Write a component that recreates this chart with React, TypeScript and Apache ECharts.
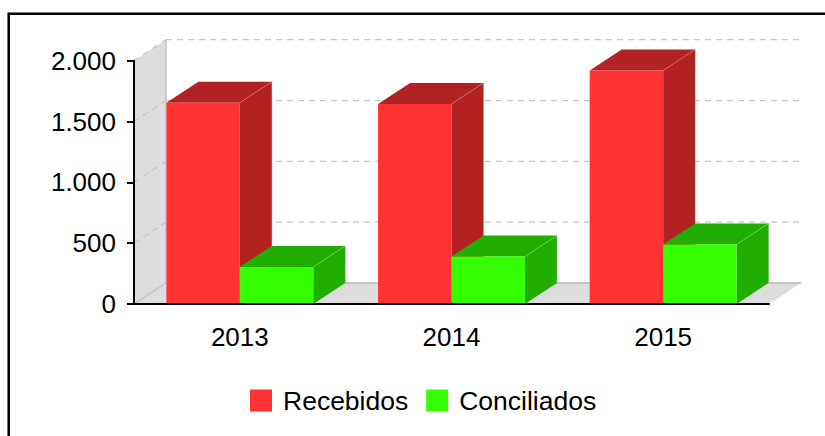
import React, { useEffect, useRef } from "react";
import * as echarts from "echarts";

const categories = ["2013", "2014", "2015"];
const recebidos = [1655, 1645, 1920];
const conciliados = [305, 390, 490];
const yTicks = [0, 500, 1000, 1500, 2000];
const seriesNames = ["Recebidos", "Conciliados"];

const DX = 32;
const DY = -21;
const FONT = "'Liberation Sans', Arial, sans-serif";

const fmt = (v: number) => String(v).replace(/\B(?=(\d{3})+(?!\d))/g, ".");

function makeBarRenderer(side: "left" | "right", front: string, dark: string, edge: string) {
  return (params: any, api: any) => {
    const idx = api.value(0);
    const val = api.value(1);
    const base = api.coord([idx, 0]);
    const top = api.coord([idx, val]);
    const bw = api.size([1, 0])[0] * 0.347;
    const x0 = side === "left" ? base[0] - bw : base[0];
    const x1 = x0 + bw;
    const yT = top[1];
    const yB = base[1];
    return {
      type: "group",
      children: [
        {
          type: "polygon",
          shape: { points: [[x1, yT], [x1 + DX, yT + DY], [x1 + DX, yB + DY], [x1, yB]] },
          style: { fill: dark },
        },
        {
          type: "polygon",
          shape: { points: [[x0, yT], [x0 + DX, yT + DY], [x1 + DX, yT + DY], [x1, yT]] },
          style: { fill: dark },
        },
        {
          type: "rect",
          shape: { x: x0, y: yT, width: bw, height: yB - yT },
          style: { fill: front },
        },
        {
          type: "line",
          shape: { x1: x1, y1: yT, x2: x1 + DX, y2: yT + DY },
          style: { stroke: edge, lineWidth: 0.8, opacity: 0.8 },
        },
        {
          type: "line",
          shape: { x1: x1 + DX, y1: yT + DY, x2: x1 + DX, y2: yB + DY },
          style: { stroke: edge, lineWidth: 0.6, opacity: 0.5 },
        },
      ],
    };
  };
}

function renderFrame(params: any, api: any) {
  const cs = params.coordSys;
  const left = cs.x;
  const right = cs.x + cs.width;
  const children: any[] = [];
  const y0 = api.coord([0, 0])[1];
  const yMax = api.coord([0, yTicks[yTicks.length - 1]])[1];
  children.push({
    type: "polygon",
    shape: { points: [[left, y0], [left, yMax], [left + DX, yMax + DY], [left + DX, y0 + DY]] },
    style: { fill: "#dddddd" },
  });
  children.push({
    type: "polygon",
    shape: { points: [[left, y0], [right, y0], [right + DX, y0 + DY], [left + DX, y0 + DY]] },
    style: { fill: "#dddddd" },
  });
  children.push({
    type: "line",
    shape: { x1: left + DX, y1: yMax + DY, x2: left + DX, y2: y0 + DY },
    style: { stroke: "#c4c4c4", lineWidth: 1.5 },
  });
  children.push({
    type: "line",
    shape: { x1: left + DX, y1: y0 + DY, x2: right + DX, y2: y0 + DY },
    style: { stroke: "#c4c4c4", lineWidth: 2 },
  });
  yTicks.forEach((t) => {
    const y = api.coord([0, t])[1];
    if (t === 0) {
      children.push({
        type: "line",
        shape: { x1: left, y1: y, x2: left + DX, y2: y + DY },
        style: { stroke: "#c8c8c8", lineWidth: 1.5 },
      });
      return;
    }
    children.push({
      type: "line",
      shape: { x1: left, y1: y, x2: left + DX, y2: y + DY },
      style: { stroke: "#c4c4c4", lineWidth: 1.2, lineDash: [6, 5] },
    });
    children.push({
      type: "line",
      shape: { x1: left + DX, y1: y + DY, x2: right + DX, y2: y + DY },
      style: { stroke: "#c8c8c8", lineWidth: 1.3, lineDash: [6, 5] },
    });
  });
  return { type: "group", children };
}

export default function App() {
  const ref = useRef<HTMLDivElement>(null);
  useEffect(() => {
    if (!ref.current) return;
    const chart = echarts.init(ref.current, null, { renderer: "svg" });
    chart.setOption({
      animation: false,
      backgroundColor: "#ffffff",
      textStyle: { fontFamily: FONT },
      graphic: [
        {
          type: "rect",
          shape: { x: 8.7, y: 13.8, width: 1000, height: 1000 },
          style: { fill: "none", stroke: "#000", lineWidth: 2.5 },
          silent: true,
        },
      ],
      legend: {
        data: seriesNames,
        left: 250,
        top: 387,
        padding: 0,
        icon: "rect",
        itemWidth: 22,
        itemHeight: 22,
        itemGap: 18,
        textStyle: { fontSize: 26.5, color: "#000", fontFamily: FONT, padding: [0, 0, 0, 6] },
        selectedMode: false,
      },
      grid: { left: 134, right: 56, top: 60.7, bottom: 132, containLabel: false },
      xAxis: {
        type: "category",
        data: categories,
        z: 10,
        axisLine: { lineStyle: { color: "#000", width: 2 } },
        axisTick: { alignWithLabel: true, length: 7, lineStyle: { color: "#000", width: 2 } },
        axisLabel: { fontSize: 26, color: "#000", margin: 20, fontFamily: FONT },
        splitLine: { show: false },
      },
      yAxis: {
        type: "value",
        min: 0,
        max: 2000,
        interval: 500,
        z: 10,
        axisLine: { show: true, lineStyle: { color: "#000", width: 2 } },
        axisTick: { show: true, length: 7, lineStyle: { color: "#000", width: 2 } },
        axisLabel: { fontSize: 26, color: "#000", margin: 18, fontFamily: FONT, formatter: (v: number) => fmt(v) },
        splitLine: { show: false },
      },
      series: [
        {
          type: "custom",
          name: "frame",
          silent: true,
          z: 1,
          data: [[0, 0]],
          encode: { x: 0, y: 1 },
          renderItem: renderFrame,
        },
        {
          type: "custom",
          name: seriesNames[0],
          z: 2,
          itemStyle: { color: "#ff3333" },
          data: recebidos.map((v, i) => [i, v]),
          encode: { x: 0, y: 1 },
          renderItem: makeBarRenderer("left", "#ff3333", "#b22222", "#e07070"),
        },
        {
          type: "custom",
          name: seriesNames[1],
          z: 3,
          itemStyle: { color: "#33ff00" },
          data: conciliados.map((v, i) => [i, v]),
          encode: { x: 0, y: 1 },
          renderItem: makeBarRenderer("right", "#33ff00", "#22ae00", "#66dd55"),
        },
      ],
    });
    return () => chart.dispose();
  }, []);
  return <div ref={ref} style={{ position: "absolute", left: 0, top: 0, width: 825, height: 436 }} />;
}
